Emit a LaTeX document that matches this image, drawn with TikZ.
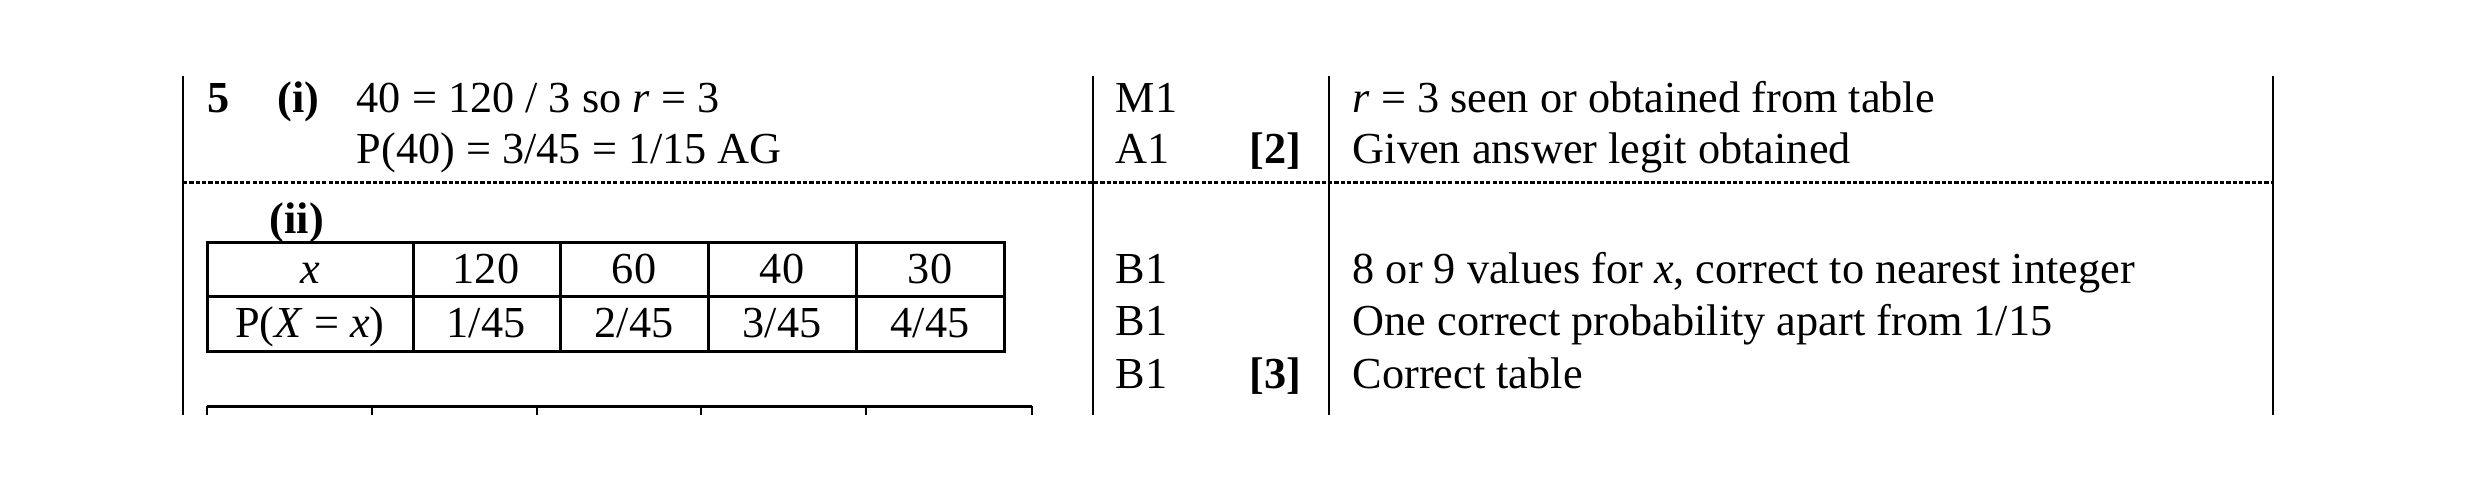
\documentclass[tikz,border=0pt]{standalone}
\usepackage{fontspec}
\setmainfont{Liberation Serif}
\usetikzlibrary{positioning}
\tikzset{
  txt/.style={anchor=base west, inner sep=0pt, font=\fontsize{12.6}{14}\selectfont},
  cell/.style={anchor=base, inner sep=0pt, font=\fontsize{12.6}{14}\selectfont},
  rule/.style={line width=0.2mm},
  grid/.style={line width=0.3mm}
}
\begin{document}
\begin{tikzpicture}[x=0.1mm,y=-0.1mm]
	\useasboundingbox (0,0) rectangle (2480,490);
	% frame of the mark scheme
	\draw[rule] (183,76) -- (183,415);
	\draw[rule] (1093,76) -- (1093,415);
	\draw[rule] (1329,76) -- (1329,415);
	\draw[rule] (2273,76) -- (2273,415);
	\draw[line width=0.3mm, dash pattern=on 1.2pt off 0.6pt] (183,182) -- (2273,182);

	% part (i)
	\node[txt] (q) at (207,112) {\textbf{5}};
	\node[txt] (pi) at (277,112) {\textbf{(i)}};
	\node[txt] (ai1) at (356,112) {40 = 120 / 3 so \textit{r} = 3};
	\node[txt] (ai2) at (356,163) {P(40) = 3/45 = 1/15 AG};
	\node[txt] (mi1) at (1115,112) {M1};
	\node[txt] (mi2) at (1115,163) {A1};
	\node[txt] (ti) at (1249,163) {\textbf{[2]}};
	\node[txt] (ci1) at (1352,112) {\textit{r} = 3 seen or obtained from table};
	\node[txt] (ci2) at (1352,163) {Given answer legit obtained};

	% part (ii)
	\node[txt] (pii) at (269,233) {\textbf{(ii)}};
	\draw[grid] (207,242) rectangle (1004,351);
	\draw[grid] (207,296) -- (1004,296);
	\foreach \cx in {413,560,708,856}
		\draw[grid] (\cx,242) -- (\cx,351);
	\node[cell] (hx) at (310,283) {\textit{x}};
	\node[cell] (hp) at (310,337) {P(\textit{X} = \textit{x})};
	\foreach \v/\p/\cx in {120/1/486,60/2/634,40/3/782,30/4/930} {
		\node[cell] (x\v) at (\cx,283) {\v};
		\node[cell] (p\v) at (\cx,337) {\p/45};
	}
	\draw[grid] (207,406) -- (1032,406);
	\foreach \cx in {207,372,537,701,866,1032}
		\draw[rule] (\cx,406) -- (\cx,415);
	\node[txt] (mii1) at (1115,283) {B1};
	\node[txt] (mii2) at (1115,335) {B1};
	\node[txt] (mii3) at (1115,388) {B1};
	\node[txt] (tii) at (1249,388) {\textbf{[3]}};
	\node[txt] (cii1) at (1352,283) {8 or 9 values for \textit{x}, correct to nearest integer};
	\node[txt] (cii2) at (1352,335) {One correct probability apart from 1/15};
	\node[txt] (cii3) at (1352,388) {Correct table};
\end{tikzpicture}
\end{document}
